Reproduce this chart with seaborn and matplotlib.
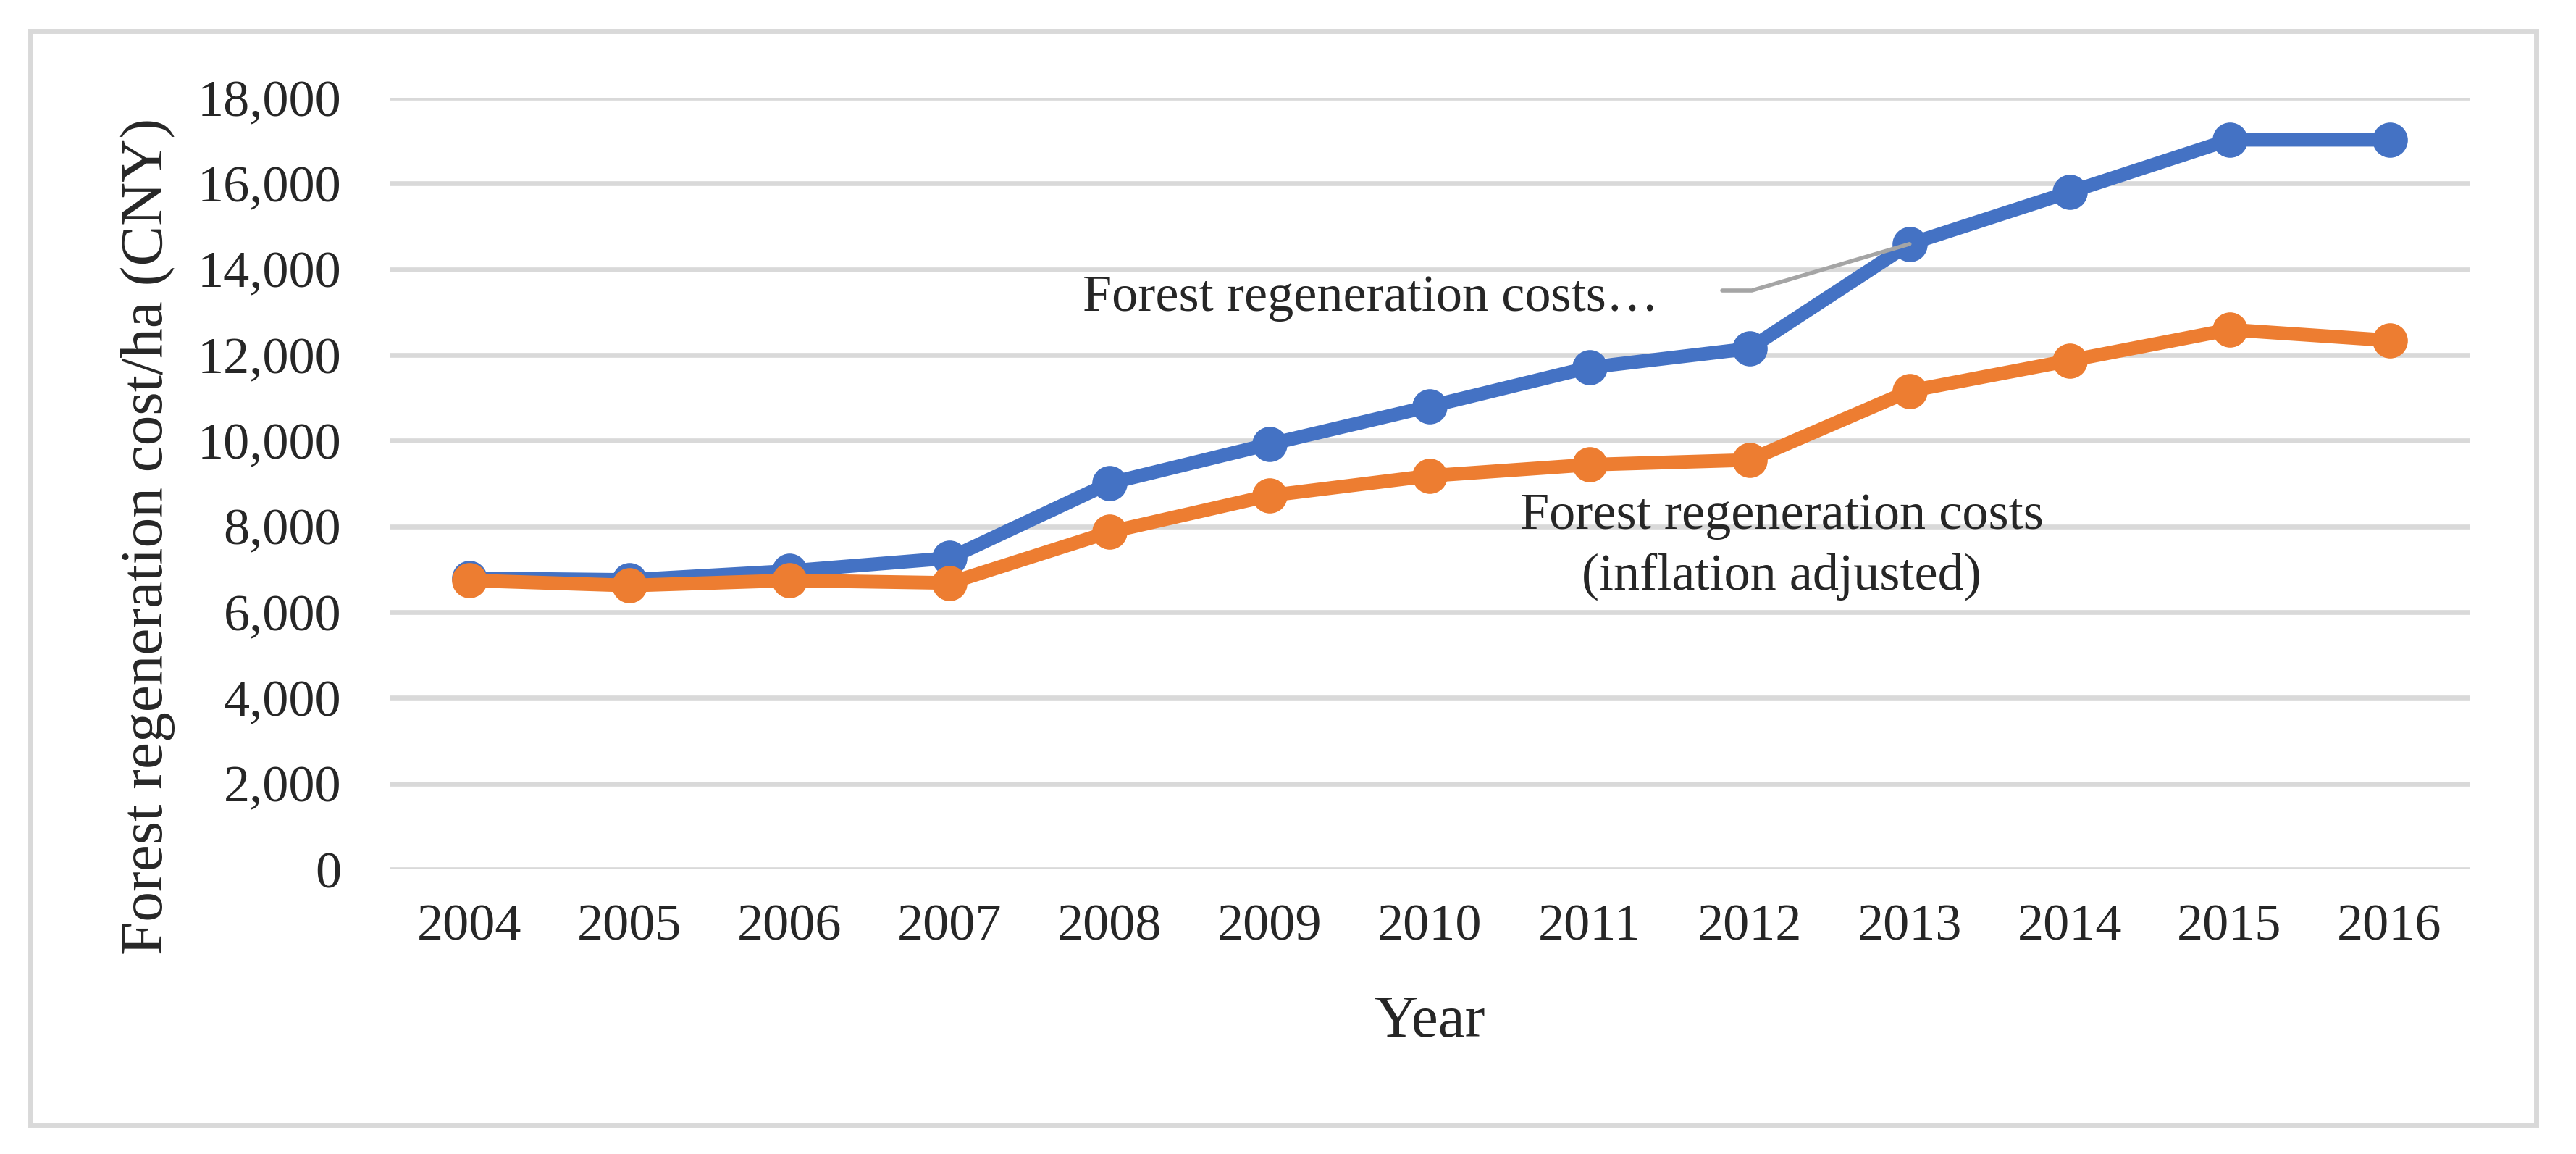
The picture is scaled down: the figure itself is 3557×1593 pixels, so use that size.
import pandas as pd
import matplotlib
matplotlib.use("Agg")
import matplotlib.pyplot as plt
import seaborn as sns
from matplotlib.patches import Rectangle
from matplotlib.lines import Line2D
from matplotlib.ticker import FuncFormatter

# --- data ---
years = [2004, 2005, 2006, 2007, 2008, 2009, 2010,
         2011, 2012, 2013, 2014, 2015, 2016]
nominal_cost = [6790, 6750, 6960, 7260, 9010, 9920, 10800,
                11710, 12150, 14590, 15800, 17020, 17020]
adjusted_cost = [6740, 6620, 6740, 6680, 7870, 8720, 9180,
                 9440, 9550, 11160, 11870, 12590, 12340]
series_names = ["Forest regeneration costs",
                "Forest regeneration costs (inflation adjusted)"]
y_ticks = list(range(0, 18001, 2000))

colors = ["#4472C4", "#ED7D31"]
grid_gray = "#D9D9D9"

sns.set_style("white")
plt.rcParams['font.family'] = ['Liberation Serif', 'DejaVu Serif']

df = pd.DataFrame({
    'year': years * 2,
    'cost': nominal_cost + adjusted_cost,
    'series': [series_names[0]] * len(years) + [series_names[1]] * len(years),
})

W, H, DPI = 3557, 1593, 200
fig = plt.figure(figsize=(W / DPI, H / DPI), dpi=DPI)
ax = fig.add_axes([538 / W, 1 - 1200 / H, (3410 - 538) / W, (1200 - 135) / H])

sns.lineplot(data=df, x='year', y='cost', hue='series', hue_order=series_names,
             palette=colors, marker='o', markersize=17.5, markeredgewidth=0,
             linewidth=6.8, legend=False, ax=ax, zorder=3)

ax.set_xlim(years[0] - 0.5, years[-1] + 0.5)
ax.set_ylim(0, 18000)
ax.set_xticks(years)
ax.set_xticklabels([str(y) for y in years])
ax.set_yticks(y_ticks)
ax.yaxis.set_major_formatter(FuncFormatter(lambda v, p: f"{int(v):,}"))
ax.tick_params(axis='both', length=0, labelsize=26)
ax.tick_params(axis='y', pad=24)
ax.tick_params(axis='x', pad=17)
ax.grid(axis='y', color=grid_gray, linewidth=2.4)
ax.set_axisbelow(True)
for s in ax.spines.values():
    s.set_visible(False)
ax.set_xlabel("")
ax.set_ylabel("")

# axis titles
fig.text(1974 / W, 1 - 1431 / H, "Year", ha='center', va='baseline', fontsize=30)
fig.text(204 / W, 1 - 740 / H, "Forest regeneration cost/ha (CNY)",
         rotation=90, ha='center', va='center', fontsize=30)

# data labels
fig.text(1495 / W, 1 - 429 / H, "Forest regeneration costs\u2026",
         ha='left', va='baseline', fontsize=26)
fig.text(2460 / W, 1 - 730 / H, "Forest regeneration costs",
         ha='center', va='baseline', fontsize=26)
fig.text(2460 / W, 1 - 815 / H, "(inflation adjusted)",
         ha='center', va='baseline', fontsize=26)

# leader line from the label to the 2013 point
fig.canvas.draw()
px, py = ax.transData.transform((years[9], nominal_cost[9]))
to_fig = fig.transFigure.inverted()
tx, ty = to_fig.transform((px, py))
fig.add_artist(Line2D([2378 / W, 2419 / W, tx], [1 - 401 / H, 1 - 401 / H, ty],
                      transform=fig.transFigure, color="#A5A5A5", linewidth=2))

# outer chart border
fig.add_artist(Rectangle((42 / W, 1 - 1553 / H), (3502 - 42) / W, (1553 - 43) / H,
                         transform=fig.transFigure, fill=False,
                         edgecolor=grid_gray, linewidth=2.5))

fig.savefig("out.png", dpi=DPI, facecolor='white')
